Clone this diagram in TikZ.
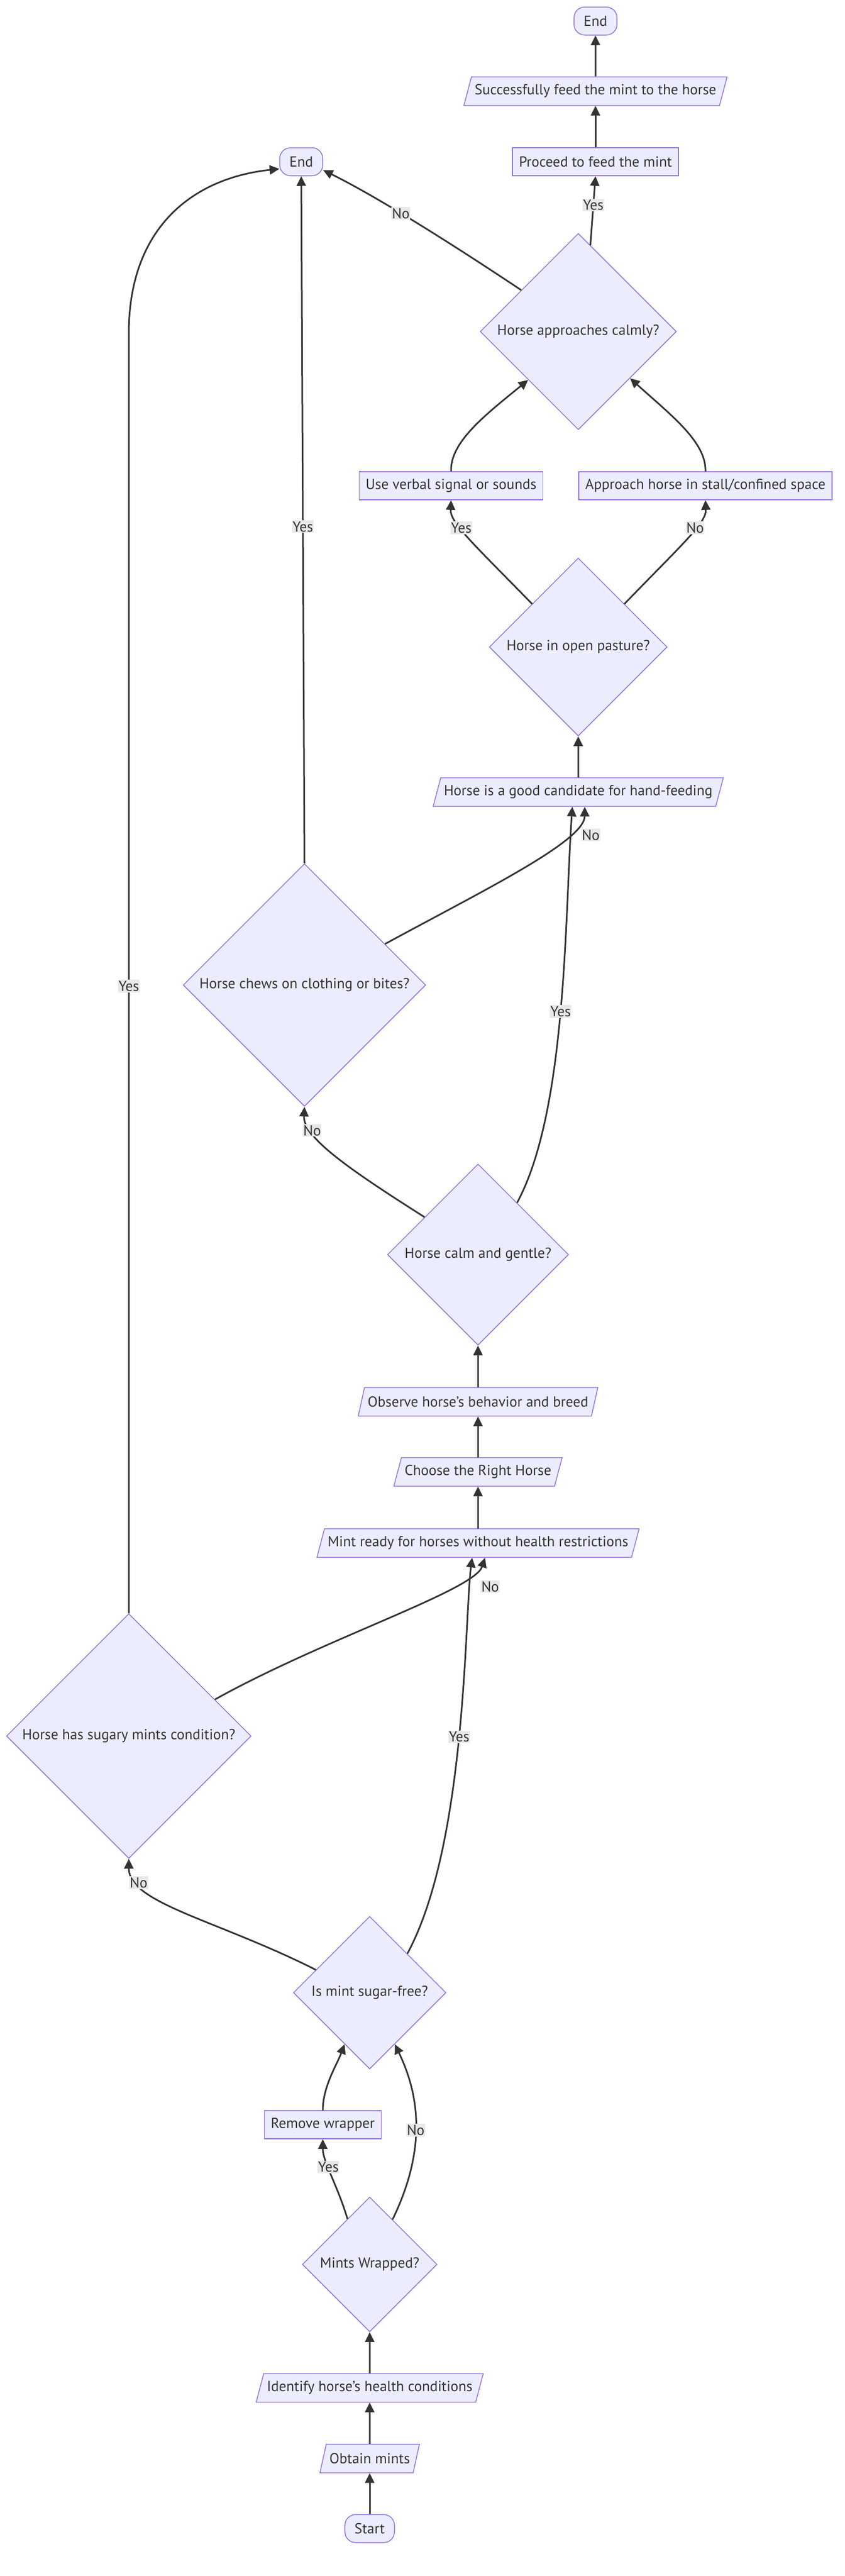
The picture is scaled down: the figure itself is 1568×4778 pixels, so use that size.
\documentclass[tikz,border=0pt]{standalone}
\usepackage{fontspec}
\setmainfont{PT Sans}
\usepackage{tikz}
\usetikzlibrary{positioning}
\usetikzlibrary{shapes.geometric}
\usetikzlibrary{arrows.meta}
\definecolor{mfill}{HTML}{ECECFF}
\definecolor{mline}{HTML}{9370DB}
\definecolor{mtext}{HTML}{333333}
\definecolor{mlbl}{HTML}{E8E8E8}
\tikzset{
 box/.style={draw=mline,fill=mfill,line width=1.5pt,text=mtext,minimum height=52pt,inner xsep=12pt},
 io/.style={trapezium,trapezium left angle=66,trapezium right angle=114,trapezium stretches body,draw=mline,fill=mfill,line width=1.5pt,text=mtext,minimum height=53pt,inner xsep=6pt},
 term/.style={draw=mline,fill=mfill,line width=1.5pt,text=mtext,rounded corners=20pt,minimum height=52pt,inner xsep=18pt},
 ask/.style={diamond,aspect=1,draw=mline,fill=mfill,line width=1.5pt,text=mtext,inner sep=0pt},
 flow/.style={draw=mtext,line width=3pt,-{Triangle[length=18pt,width=17pt]}},
 lbl/.style={fill=mlbl,text=mtext,inner xsep=1pt,inner ysep=2pt}
}
\begin{document}
\begin{tikzpicture}[x=1pt,y=-1pt,font=\fontsize{27}{32}\selectfont]
 \useasboundingbox (0,0) rectangle (1568,4778);
 \node[term] (endA) at (1105,39) {End};
 \node[io] (success) at (1105,169) {Successfully feed the mint to the horse};
 \node[box] (proceed) at (1105,300) {Proceed to feed the mint};
 \node[term] (endB) at (559,300) {End};
 \node[ask,minimum size=364pt] (approach) at (1073,615) {Horse approaches calmly?};
 \node[box] (verbal) at (837,901) {Use verbal signal or sounds};
 \node[box] (stall) at (1309,901) {Approach horse in stall/confined space};
 \node[ask,minimum size=330pt] (pasture) at (1073,1200) {Horse in open pasture?};
 \node[io] (candidate) at (1073,1469) {Horse is a good candidate for hand-feeding};
 \node[ask,minimum size=450pt] (chews) at (565,1827) {Horse chews on clothing or bites?};
 \node[ask,minimum size=336pt] (calm) at (887,2327) {Horse calm and gentle?};
 \node[io] (observe) at (887,2600) {Observe horse's behavior and breed};
 \node[io] (choose) at (887,2730) {Choose the Right Horse};
 \node[io] (ready) at (887,2862) {Mint ready for horses without health restrictions};
 \node[ask,minimum size=454pt] (sugary) at (239,3220) {Horse has sugary mints condition?};
 \node[ask,minimum size=283pt] (sugarfree) at (686,3696) {Is mint sugar-free?};
 \node[box] (remove) at (599,3941) {Remove wrapper};
 \node[ask,minimum size=250pt] (wrapped) at (686,4200) {Mints Wrapped?};
 \node[io] (identify) at (686,4429) {Identify horse's health conditions};
 \node[io] (obtain) at (686,4560) {Obtain mints};
 \node[term] (start) at (686,4690) {Start};

 \draw[flow] (start) -- (obtain);
 \draw[flow] (obtain) -- (identify);
 \draw[flow] (identify) -- (wrapped);
 \draw[flow] (wrapped.116) .. controls (625,4050) and (599,4010) .. node[lbl,pos=0.6]{Yes} (remove.south);
 \draw[flow] (wrapped.63) .. controls (785,4000) and (785,3900) .. node[lbl]{No} (sugarfree.296);
 \draw[flow] (remove.north) .. controls (599,3870) and (625,3830) .. (sugarfree.244);
 \draw[flow] (sugarfree.157) .. controls (400,3560) and (239,3530) .. node[lbl,pos=0.8]{No} (sugary.south);
 \draw[flow] (sugarfree.46) .. controls (866,3420) and (862,3000) .. node[lbl]{Yes} ([xshift=-11pt]ready.south);
 \draw[flow] (sugary.23) .. controls (600,3040) and (880,2950) .. node[lbl,pos=0.85,xshift=35pt,yshift=-24pt]{No} ([xshift=13pt]ready.south);
 \draw[flow] (sugary.north) -- node[lbl,pos=0.49]{Yes} ++(0,-2374) .. controls (239,420) and (360,330) .. (endB.198);
 \draw[flow] (ready) -- (choose);
 \draw[flow] (choose) -- (observe);
 \draw[flow] (observe) -- (calm);
 \draw[flow] (calm.145) .. controls (650,2170) and (562,2110) .. node[lbl,pos=0.75]{No} (chews.south);
 \draw[flow] (calm.53) .. controls (1052,2060) and (1048,1700) .. node[lbl]{Yes} ([xshift=-11pt]candidate.south);
 \draw[flow] (chews.27) .. controls (900,1650) and (1085,1560) .. node[lbl,pos=0.85,xshift=23pt,yshift=-22pt]{No} ([xshift=12pt]candidate.south);
 \draw[flow] (chews.north) -- node[lbl,pos=0.49]{Yes} (endB.south);
 \draw[flow] (candidate) -- (pasture);
 \draw[flow] (pasture.137) .. controls (880,1010) and (835,970) .. node[lbl,pos=0.62]{Yes} (verbal.south);
 \draw[flow] (pasture.43) .. controls (1265,1010) and (1311,970) .. node[lbl,pos=0.62]{No} (stall.south);
 \draw[flow] (verbal.north) .. controls (835,820) and (900,770) .. (approach.224);
 \draw[flow] (stall.north) .. controls (1311,820) and (1245,770) .. (approach.318);
 \draw[flow] (approach.82) -- node[lbl,pos=0.58]{Yes} (proceed.south);
 \draw[flow] (approach.144) .. controls (820,440) and (690,360) .. node[lbl,pos=0.55]{No} (endB.-21);
 \draw[flow] (proceed) -- (success);
 \draw[flow] (success) -- (endA);
\end{tikzpicture}
\end{document}
